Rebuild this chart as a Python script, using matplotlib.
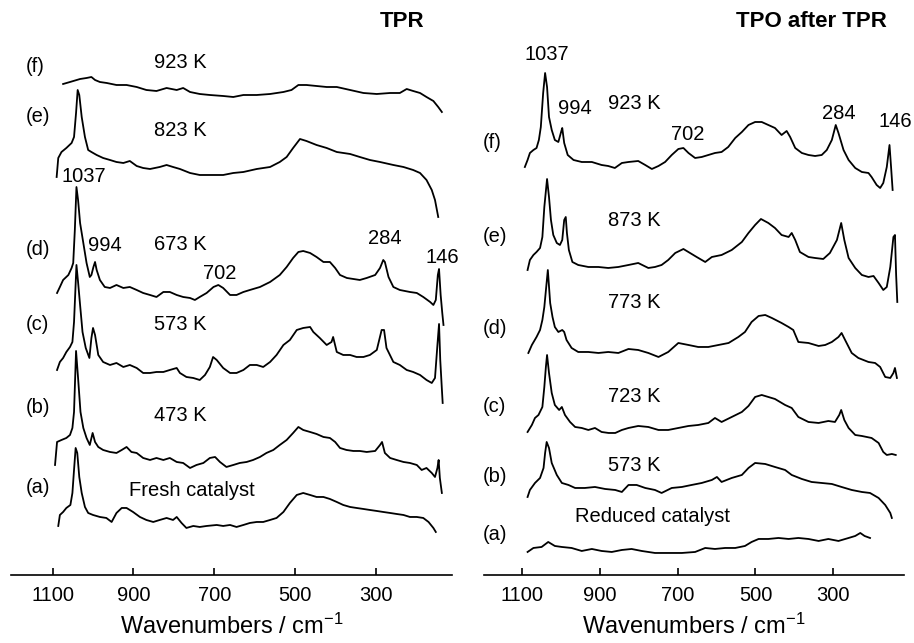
import numpy as np
import matplotlib
matplotlib.use("Agg")
import matplotlib.pyplot as plt

plt.rcParams["font.family"] = ["Liberation Sans", "DejaVu Sans"]
plt.rcParams["mathtext.fontset"] = "custom"
plt.rcParams["mathtext.rm"] = "Liberation Sans"
plt.rcParams["mathtext.it"] = "Liberation Sans:italic"
plt.rcParams["mathtext.bf"] = "Liberation Sans:bold"

# Raman spectra: (wavenumber / cm-1, stacked intensity / a.u.)
# --- TPR panel ---
tpr_a = [(1086, 49), (1082, 60), (1074, 63), (1066, 67), (1056, 70), (1051, 82), (1047, 105),
         (1043, 127), (1039, 122), (1034, 98), (1028, 82), (1020, 68), (1012, 62), (1000, 60),
         (983, 58), (967, 57), (954, 53), (942, 62), (929, 67), (917, 67), (901, 63), (884, 58),
         (868, 55), (851, 53), (835, 55), (818, 57), (802, 55), (793, 58), (781, 52), (769, 47),
         (752, 49), (736, 48), (719, 49), (694, 50), (678, 49), (661, 50), (645, 48), (628, 50),
         (612, 52), (595, 53), (579, 53), (562, 55), (546, 57), (529, 63), (513, 72), (496, 80),
         (480, 82), (463, 80), (447, 78), (430, 78), (414, 76), (397, 73), (381, 70), (364, 68),
         (348, 67), (331, 66), (315, 65), (298, 64), (282, 63), (265, 62), (249, 61), (232, 60),
         (216, 58), (199, 58), (183, 57), (170, 53), (158, 47), (152, 43)]
tpr_b = [(1094, 110), (1089, 133), (1078, 135), (1066, 137), (1057, 140), (1051, 147), (1047, 163),
         (1042, 224), (1037, 197), (1031, 163), (1024, 147), (1016, 137), (1008, 130), (1001, 142),
         (995, 133), (987, 128), (975, 125), (958, 123), (942, 122), (929, 125), (917, 128),
         (905, 123), (892, 122), (876, 117), (859, 115), (843, 117), (826, 115), (810, 117),
         (793, 113), (777, 112), (760, 107), (744, 110), (727, 112), (711, 117), (698, 118),
         (686, 113), (670, 108), (653, 110), (637, 112), (620, 113), (604, 115), (587, 118),
         (571, 122), (554, 125), (538, 130), (521, 135), (505, 142), (492, 148), (480, 145),
         (463, 143), (447, 141), (430, 138), (414, 137), (401, 133), (389, 127), (373, 125),
         (356, 124), (340, 124), (323, 123), (302, 124), (290, 130), (285, 133), (278, 122),
         (265, 117), (249, 115), (232, 113), (216, 112), (199, 110), (187, 105), (175, 107),
         (162, 102), (154, 98), (148, 107), (145, 115), (142, 97), (137, 82)]
tpr_c = [(1089, 205), (1082, 213), (1074, 217), (1066, 223), (1057, 228), (1051, 233), (1047, 253),
         (1041, 310), (1037, 293), (1032, 270), (1026, 243), (1018, 227), (1009, 217), (1004, 237),
         (1000, 247), (995, 240), (987, 220), (975, 213), (958, 210), (942, 212), (925, 208),
         (909, 210), (892, 207), (876, 202), (859, 202), (843, 203), (826, 203), (810, 205),
         (793, 207), (785, 202), (769, 198), (752, 197), (736, 195), (723, 200), (711, 208),
         (703, 218), (694, 215), (678, 207), (661, 202), (645, 202), (628, 205), (612, 210),
         (595, 210), (579, 208), (562, 213), (546, 220), (529, 230), (513, 235), (496, 245),
         (480, 247), (463, 248), (455, 243), (439, 237), (422, 230), (410, 233), (406, 238),
         (397, 223), (381, 220), (364, 220), (348, 218), (331, 218), (315, 220), (298, 225),
         (286, 245), (280, 245), (274, 227), (257, 213), (241, 210), (224, 205), (208, 203),
         (191, 200), (175, 195), (162, 192), (154, 197), (148, 230), (144, 251), (141, 215),
         (137, 186), (135, 172)]
tpr_d = [(1089, 282), (1082, 288), (1074, 295), (1061, 300), (1053, 307), (1049, 312), (1045, 345),
         (1041, 388), (1037, 375), (1032, 352), (1024, 332), (1016, 312), (1008, 298), (1004, 300),
         (999, 308), (995, 313), (991, 305), (983, 295), (971, 288), (958, 287), (942, 290),
         (925, 287), (909, 288), (892, 285), (876, 282), (859, 280), (843, 278), (826, 283),
         (810, 283), (793, 280), (777, 278), (760, 277), (748, 275), (736, 278), (719, 282),
         (702, 288), (690, 290), (678, 287), (661, 280), (645, 280), (628, 283), (612, 285),
         (587, 288), (562, 293), (538, 300), (521, 308), (505, 317), (492, 323), (480, 324),
         (463, 322), (447, 318), (430, 313), (414, 313), (401, 307), (389, 300), (372, 297),
         (356, 296), (340, 295), (323, 297), (302, 300), (290, 307), (282, 315), (278, 313),
         (269, 298), (257, 288), (241, 285), (216, 283), (199, 282), (183, 278), (166, 273),
         (158, 270), (152, 275), (147, 300), (144, 306), (140, 280), (136, 262), (133, 250)]
tpr_e = [(1090, 398), (1086, 417), (1078, 423), (1066, 427), (1053, 432), (1047, 438), (1042, 462),
         (1038, 485), (1034, 480), (1028, 458), (1020, 438), (1012, 425), (1004, 423), (991, 420),
         (975, 417), (958, 415), (942, 413), (925, 412), (909, 414), (892, 409), (876, 407),
         (859, 406), (835, 408), (818, 410), (802, 408), (785, 406), (760, 402), (736, 400),
         (711, 400), (678, 400), (653, 402), (628, 403), (595, 406), (562, 408), (538, 413),
         (521, 418), (505, 427), (488, 436), (472, 434), (447, 430), (422, 427), (397, 423),
         (364, 421), (340, 418), (315, 415), (290, 413), (257, 410), (232, 408), (208, 405),
         (191, 402), (175, 395), (162, 385), (154, 375), (146, 358)]
tpr_f = [(1074, 491), (1057, 493), (1032, 496), (1016, 497), (1004, 498), (995, 495), (983, 493),
         (966, 492), (942, 490), (917, 490), (892, 488), (868, 485), (843, 484), (818, 487),
         (793, 485), (777, 487), (760, 483), (736, 481), (711, 480), (678, 479), (653, 478),
         (628, 480), (595, 480), (562, 481), (529, 483), (509, 485), (492, 490), (472, 490),
         (447, 489), (422, 488), (397, 488), (364, 485), (331, 482), (298, 481), (265, 482),
         (241, 482), (224, 486), (208, 484), (191, 482), (175, 478), (158, 474), (146, 468),
         (137, 463)]

# --- TPO after TPR panel ---
tpo_a = [(1085, 23), (1070, 27), (1049, 28), (1032, 33), (1015, 29), (997, 28), (972, 27),
         (946, 24), (920, 26), (895, 24), (869, 23), (843, 25), (818, 26), (792, 24), (758, 22),
         (724, 22), (689, 22), (655, 23), (629, 27), (604, 26), (578, 27), (552, 27), (527, 29),
         (510, 33), (492, 36), (467, 36), (441, 37), (415, 36), (390, 37), (364, 36), (338, 34),
         (313, 36), (287, 34), (261, 37), (244, 39), (231, 42), (220, 39), (206, 37)]
tpo_b = [(1085, 78), (1079, 85), (1066, 92), (1053, 97), (1044, 107), (1040, 122), (1036, 133),
         (1030, 127), (1023, 112), (1010, 100), (997, 92), (980, 90), (963, 87), (938, 87),
         (912, 88), (886, 86), (860, 85), (843, 83), (826, 90), (805, 90), (783, 87), (758, 85),
         (741, 82), (715, 87), (689, 88), (664, 90), (638, 92), (612, 95), (599, 98), (587, 93),
         (561, 97), (535, 100), (518, 107), (501, 112), (475, 111), (450, 108), (424, 105),
         (407, 100), (381, 96), (356, 93), (330, 92), (304, 91), (279, 88), (253, 85), (227, 83),
         (206, 82), (184, 77), (167, 70), (154, 62), (150, 57)]
tpo_c = [(1085, 143), (1074, 150), (1066, 157), (1057, 160), (1047, 168), (1042, 188), (1038, 208),
         (1035, 220), (1030, 202), (1023, 182), (1015, 170), (1004, 165), (997, 168), (989, 160),
         (976, 153), (963, 148), (946, 147), (929, 145), (912, 147), (895, 143), (877, 142),
         (860, 142), (843, 145), (826, 147), (801, 149), (775, 148), (749, 145), (724, 145),
         (698, 147), (672, 149), (647, 150), (621, 152), (604, 157), (587, 153), (561, 158),
         (535, 163), (518, 169), (501, 178), (484, 180), (467, 178), (450, 176), (424, 170),
         (407, 167), (390, 158), (364, 153), (338, 152), (313, 154), (296, 153), (285, 160),
         (280, 165), (272, 155), (261, 147), (244, 140), (227, 139), (202, 137), (184, 132),
         (172, 123), (163, 120), (150, 121), (140, 120)]
tpo_d = [(1083, 222), (1074, 230), (1062, 238), (1053, 245), (1047, 255), (1042, 268), (1033, 305),
         (1027, 272), (1021, 258), (1015, 248), (1006, 243), (996, 245), (991, 243), (985, 235),
         (972, 227), (955, 223), (929, 223), (903, 222), (878, 223), (852, 222), (826, 226),
         (801, 225), (775, 222), (749, 218), (724, 223), (698, 232), (672, 230), (647, 228),
         (621, 228), (595, 230), (569, 232), (544, 238), (527, 243), (510, 253), (492, 259),
         (475, 260), (458, 257), (433, 252), (415, 248), (403, 245), (390, 233), (364, 232),
         (338, 229), (321, 230), (304, 233), (287, 238), (279, 242), (270, 235), (253, 222),
         (236, 217), (210, 213), (193, 212), (180, 208), (167, 198), (154, 197), (146, 202),
         (142, 207), (137, 197)]
tpo_e = [(1085, 305), (1079, 315), (1070, 320), (1062, 323), (1053, 327), (1047, 338), (1042, 368),
         (1035, 396), (1030, 378), (1025, 355), (1019, 340), (1010, 332), (1002, 330), (996, 335),
         (991, 355), (987, 358), (984, 342), (979, 325), (970, 313), (955, 310), (929, 308),
         (903, 308), (878, 307), (852, 308), (826, 310), (801, 312), (775, 307), (758, 308),
         (741, 310), (724, 315), (706, 322), (685, 326), (668, 322), (651, 318), (629, 313),
         (612, 318), (587, 320), (561, 325), (535, 333), (518, 342), (501, 350), (486, 356),
         (467, 352), (450, 347), (433, 340), (415, 338), (407, 342), (398, 335), (386, 323),
         (364, 318), (347, 317), (326, 316), (309, 322), (291, 335), (280, 352), (272, 335),
         (261, 317), (244, 307), (227, 300), (210, 298), (197, 299), (184, 292), (172, 285),
         (163, 288), (154, 308), (146, 338), (142, 340), (139, 300), (136, 273)]
tpo_f = [(1092, 408), (1085, 415), (1079, 422), (1070, 425), (1062, 427), (1056, 435), (1051, 448),
         (1045, 482), (1040, 502), (1035, 488), (1030, 458), (1023, 445), (1015, 435), (1006, 433),
         (999, 443), (996, 447), (991, 432), (982, 420), (967, 415), (946, 413), (920, 413),
         (895, 410), (878, 409), (861, 407), (843, 412), (826, 413), (801, 414), (783, 410),
         (766, 406), (749, 409), (732, 413), (715, 420), (698, 426), (685, 427), (672, 422),
         (655, 417), (638, 418), (621, 420), (604, 422), (587, 423), (570, 428), (552, 437),
         (535, 443), (518, 450), (501, 453), (484, 453), (467, 450), (450, 447), (433, 440),
         (420, 444), (411, 438), (398, 427), (381, 422), (364, 420), (347, 419), (330, 420),
         (317, 425), (304, 435), (294, 450), (287, 442), (274, 425), (261, 415), (244, 407),
         (227, 403), (210, 402), (202, 398), (189, 390), (180, 387), (172, 392), (163, 408),
         (156, 430), (152, 408), (148, 385)]

curve_tags = ["(a)", "(b)", "(c)", "(d)", "(e)", "(f)"]
tpr_conditions = ["Fresh catalyst", "473 K", "573 K", "673 K", "823 K", "923 K"]
tpo_conditions = ["Reduced catalyst", "573 K", "723 K", "773 K", "873 K", "923 K"]
band_labels = ["1037", "994", "702", "284", "146"]
tick_values = [1100, 900, 700, 500, 300]


def draw_panel(ax, spectra, xlim, title, title_x):
    for spec in spectra:
        wn, inten = np.array(spec).T
        ax.plot(wn, inten, color="black", lw=1.3)
    ax.set_xlim(*xlim)
    ax.set_ylim(0, 575)
    ax.set_yticks([])
    for side in ["left", "right", "top"]:
        ax.spines[side].set_visible(False)
    ax.spines["bottom"].set_linewidth(1.2)
    ax.set_xticks(tick_values)
    ax.tick_params(axis="x", direction="in", length=5, width=1.2, pad=8, labelsize=14.5)
    ax.set_xlabel("Wavenumbers / cm$^{-1}$", fontsize=17, labelpad=6)
    ax.text(title_x, 553, title, fontsize=16, fontweight="bold", ha="center", va="center")


def main():
    fig = plt.figure(figsize=(9.14, 6.43), dpi=100)
    ax1 = fig.add_axes([0.0120, 0.1058, 0.4825, 0.8942])
    ax2 = fig.add_axes([0.5299, 0.1058, 0.4595, 0.8942])

    draw_panel(ax1, [tpr_a, tpr_b, tpr_c, tpr_d, tpr_e, tpr_f], (1203, 112), "TPR", 236)
    draw_panel(ax2, [tpo_a, tpo_b, tpo_c, tpo_d, tpo_e, tpo_f], (1196, 118), "TPO after TPR", 357)

    fs = 14.5
    # left panel annotations
    tag_y1 = [87, 167, 250, 325, 458, 508]
    cond_y1 = [84, 159, 250, 330, 444, 512]
    for tag, cond, ty, cy in zip(curve_tags, tpr_conditions, tag_y1, cond_y1):
        ax1.text(1166, ty, tag, fontsize=fs, ha="left", va="center")
        cx = 755 if cond == "Fresh catalyst" else 785
        ax1.text(cx, cy, cond, fontsize=fs, ha="center", va="center")
    band_pos1 = [(1023, 398), (971, 329), (686, 301), (278, 336), (135, 317)]
    for lab, (bx, by) in zip(band_labels, band_pos1):
        ax1.text(bx, by, lab, fontsize=fs, ha="center", va="center")

    # right panel annotations
    tag_y2 = [40, 98, 168, 246, 338, 432]
    cond_y2 = [58, 109, 178, 272, 354, 471]
    for tag, cond, ty, cy in zip(curve_tags, tpo_conditions, tag_y2, cond_y2):
        ax2.text(1199, ty, tag, fontsize=fs, ha="left", va="center")
        cx = 764 if cond == "Reduced catalyst" else 812
        ax2.text(cx, cy, cond, fontsize=fs, ha="center", va="center")
    band_pos2 = [(1036, 520), (963, 466), (675, 440), (285, 461), (140, 453)]
    for lab, (bx, by) in zip(band_labels, band_pos2):
        ax2.text(bx, by, lab, fontsize=fs, ha="center", va="center")

    fig.savefig("out.png", dpi=100)


if __name__ == "__main__":
    main()
